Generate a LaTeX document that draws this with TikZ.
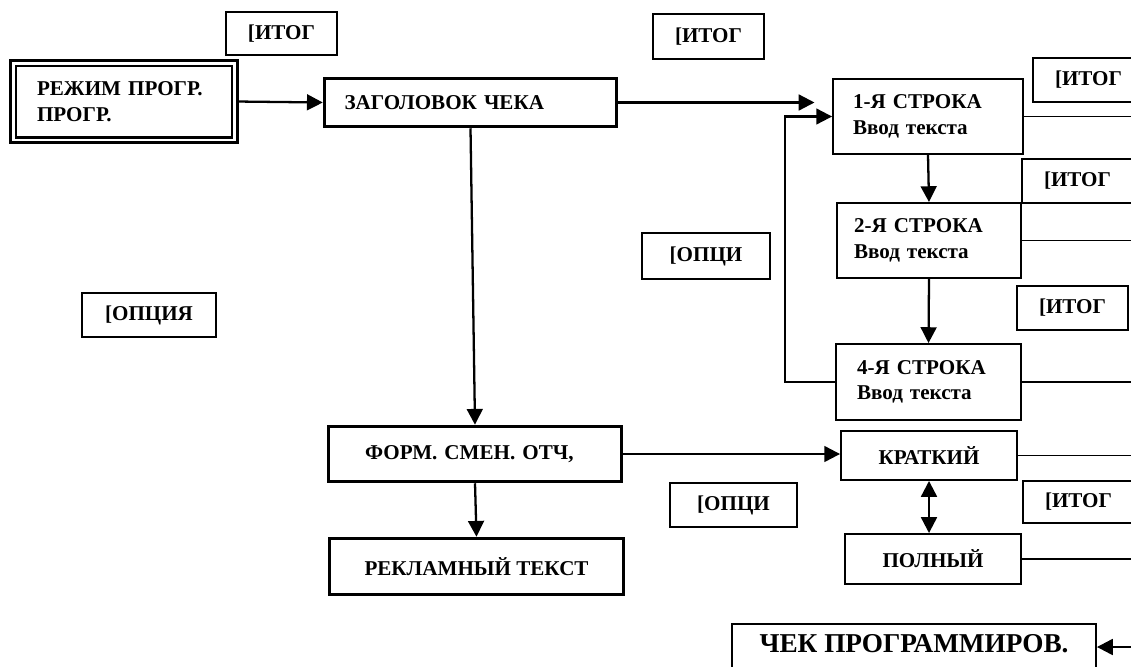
\documentclass[tikz,border=0pt]{standalone}
\usepackage{fontspec}
\setmainfont{Liberation Serif}
\usetikzlibrary{arrows.meta}
\tikzset{
	box/.style={draw, line width=1.1pt, font=\fontsize{12}{14.5}\selectfont\bfseries, inner sep=0pt, align=left},
	heavybox/.style={box, line width=2pt},
	tagbox/.style={box, align=center, minimum width=2.22cm, minimum height=0.88cm},
	arr/.style={line width=1.3pt, -{Triangle[length=9pt,width=9pt]}},
	dblarr/.style={line width=1.3pt, {Triangle[length=9pt,width=9pt]}-{Triangle[length=9pt,width=9pt]}},
	wire/.style={line width=1.1pt}
}

\begin{document}
\begin{tikzpicture}[x=0.02cm, y=-0.02cm]
		%%%%% START %%%%%
		\useasboundingbox (0,0) rectangle (1131,666);
		\clip (0,0) rectangle (1131,666);
		\coordinate (edge) at (1145,0);
		
		\node[box, double, double distance=1.7pt, line width=1.2pt, minimum height=1.54cm, text width=3.48cm, inner xsep=0.48cm] (rezhim) at (124,101.5) {РЕЖИМ ПРОГР.\\ПРОГР.};
		\node[heavybox, minimum height=0.96cm, text width=5.04cm, inner xsep=0.4cm] (zag) at (470.5,102.5) {ЗАГОЛОВОК ЧЕКА};
		\node[heavybox, minimum height=1.1cm, text width=4.4cm, inner xsep=0.73cm] (form) at (475,454) {ФОРМ. СМЕН. ОТЧ,};
		\node[heavybox, align=center, minimum width=5.88cm, minimum height=1.12cm] (rekl) at (476.5,566.5) {РЕКЛАМНЫЙ ТЕКСТ};
		
		\node[box, minimum height=1.5cm, text width=3.0cm, inner xsep=0.4cm] (s1) at (928,116.5) {1-Я СТРОКА\\Ввод текста};
		\node[box, minimum height=1.5cm, text width=3.0cm, inner xsep=0.34cm] (s2) at (929,240.5) {2-Я СТРОКА\\Ввод текста};
		\node[box, minimum height=1.52cm, text width=2.86cm, inner xsep=0.42cm] (s4) at (928.5,382) {4-Я СТРОКА\\Ввод текста};
		\node[box, align=center, minimum width=3.52cm, minimum height=0.98cm] (krat) at (929,455.5) {КРАТКИЙ};
		\node[box, align=center, minimum width=3.52cm, minimum height=1.0cm] (poln) at (933,559) {ПОЛНЫЙ};
		\node[box, align=center, font=\fontsize{15.5}{18}\selectfont\bfseries, anchor=north, minimum width=7.28cm, inner ysep=0.28cm, text height=0.3cm, text depth=0.9cm] (chek) at (914,623) {ЧЕК ПРОГРАММИРОВ.};
		
		\node[tagbox, minimum height=0.86cm] (itogA) at (281.5,33.5) {[ИТОГ};
		\node[tagbox, minimum height=0.9cm] (itogB) at (708.5,36.5) {[ИТОГ};
		\node[tagbox] (itogC) at (1088.5,80) {[ИТОГ};
		\node[tagbox] (itogD) at (1077.5,181) {[ИТОГ};
		\node[tagbox] (itogE) at (1072.5,308) {[ИТОГ};
		\node[tagbox, minimum height=0.84cm] (itogF) at (1078.5,502) {[ИТОГ};
		\node[tagbox, minimum width=2.56cm, minimum height=0.92cm] (opcA) at (706,256) {[ОПЦИ};
		\node[tagbox, minimum width=2.68cm] (opcB) at (149,315) {[ОПЦИЯ};
		\node[tagbox, minimum width=2.54cm] (opcC) at (733.5,505) {[ОПЦИ};
		
		\draw[arr] (rezhim.east) -- (zag.west);
		\draw[arr, shorten >=10pt] (zag.east) -- (zag.east -| s1.west);
		\draw[arr] (zag.south) -- (form.north);
		\draw[arr] (form.south) -- (rekl.north);
		\draw[arr] (form.east) -- (form.east -| krat.west);
		
		\draw[arr] (s1.south) -- (s2.north);
		\draw[arr] (s2.south) -- (s4.north);
		\draw[arr, line width=1.2pt] (s4.west) -- ++(-50,0) |- (s1.west);
		\draw[dblarr] (krat.south) -- (krat.south |- poln.north);
		
		\draw[wire] (s1.east) -- (s1.east -| edge);
		\draw[wire] (s2.east) -- (s2.east -| edge);
		\draw[wire] (s4.east) -- (s4.east -| edge);
		\draw[wire] (krat.east) -- (krat.east -| edge);
		\draw[wire] (poln.east) -- (poln.east -| edge);
		
		\coordinate (chekin) at (1145,647);
		\draw[arr] (chekin) -- (chekin -| chek.east);
		
		%%%%% END %%%%%
	\end{tikzpicture}
\end{document}
